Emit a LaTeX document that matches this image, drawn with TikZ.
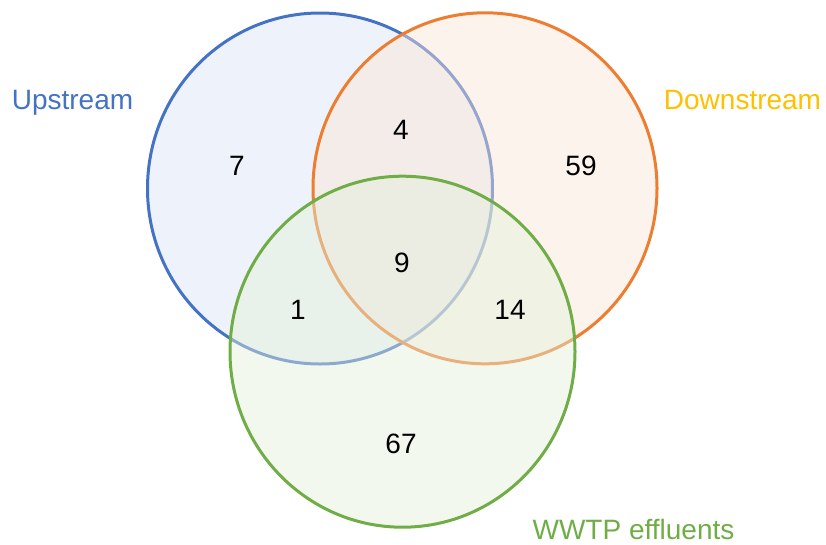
\documentclass[tikz,border=0pt]{standalone}
\usepackage{fontspec}
\setmainfont{Liberation Sans}
\definecolor{upblue}{HTML}{4472C4}
\definecolor{downorange}{HTML}{ED7D31}
\definecolor{downgold}{HTML}{FFC000}
\definecolor{wwtpgreen}{HTML}{70AD47}
\definecolor{upfill}{HTML}{DAE3F3}
\definecolor{downfill}{HTML}{FBE5D6}
\definecolor{wwtpfill}{HTML}{E2F0D9}
\tikzset{
  setcircle/.style={line width=3pt, fill opacity=0.45, draw opacity=1},
  count/.style={font=\fontsize{28}{30}\selectfont, text=black, anchor=base, inner sep=0pt},
  setlabel/.style={font=\fontsize{28}{30}\selectfont, anchor=base, inner sep=0pt},
}
\begin{document}
\begin{tikzpicture}[x=1pt,y=-1pt]
  \useasboundingbox (0,0) rectangle (826,544);
  % the three sets, drawn in order so later fills tint earlier outlines
  \path[setcircle, draw=upblue, fill=upfill] (320,188.5) ellipse [x radius=172.5, y radius=175.5];
  \path[setcircle, draw=downorange, fill=downfill] (485,188.3) ellipse [x radius=172, y radius=175.5];
  \path[setcircle, draw=wwtpgreen, fill=wwtpfill] (402.5,351.7) ellipse [x radius=172.5, y radius=175.5];
  % set names
  \node[setlabel, text=upblue] (lup) at (72.5,109.5) {Upstream};
  \node[setlabel, text=downgold] (ldown) at (742.5,109.5) {Downstream};
  \node[setlabel, text=wwtpgreen] (lwwtp) at (633.5,539) {WWTP effluents};
  % region counts
  \node[count] (nu) at (237,175) {7};
  \node[count] (nd) at (581,175) {59};
  \node[count] (nud) at (401,139.5) {4};
  \node[count] (nall) at (402,272.5) {9};
  \node[count] (nuw) at (298,319.5) {1};
  \node[count] (ndw) at (510,319.5) {14};
  \node[count] (nw) at (401,453) {67};
\end{tikzpicture}
\end{document}
